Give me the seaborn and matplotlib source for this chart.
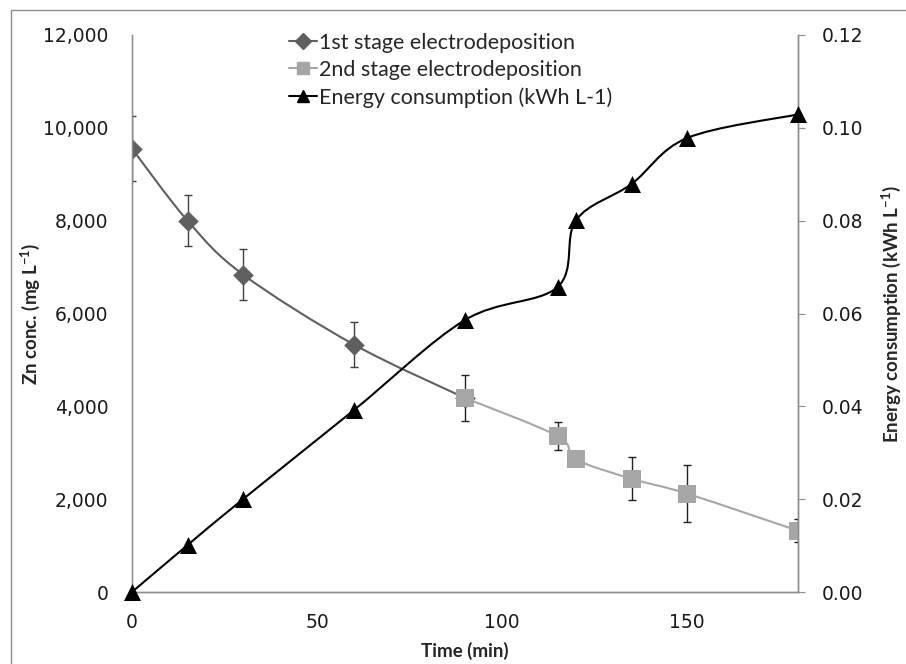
import matplotlib
matplotlib.use("Agg")
import matplotlib.pyplot as plt
from matplotlib.path import Path
from matplotlib.patches import PathPatch, Rectangle
from matplotlib.lines import Line2D
from matplotlib.ticker import FuncFormatter
import seaborn as sns

# data
time_stage1 = [0, 15, 30, 60, 90]
zn_stage1 = [9550, 8000, 6840, 5330, 4180]
err_stage1 = [700, 555, 540, 485, 0]

time_stage2 = [90, 115, 120, 135, 150, 180]
zn_stage2 = [4180, 3360, 2860, 2440, 2120, 1320]
err_stage2 = [490, 305, 0, 460, 610, 245]

time_energy = [0, 15, 30, 60, 90, 115, 120, 135, 150, 180]
energy = [0.0, 0.0101, 0.0200, 0.0392, 0.0586, 0.0657, 0.0801, 0.0879, 0.0978, 0.1029]

labels = ["1st stage electrodeposition", "2nd stage electrodeposition",
          "Energy consumption (kWh L-1)"]

c1, c2, c3 = "#5f5f5f", "#a6a6a6", "#000000"


def smooth_path(xs, ys):
    # Excel-style smoothed line: cubic Bezier through the points
    n = len(xs)
    verts = [(xs[0], ys[0])]
    codes = [Path.MOVETO]
    for i in range(n - 1):
        x0, y0 = (xs[i - 1], ys[i - 1]) if i > 0 else (xs[i], ys[i])
        x1, y1 = xs[i], ys[i]
        x2, y2 = xs[i + 1], ys[i + 1]
        x3, y3 = (xs[i + 2], ys[i + 2]) if i + 2 < n else (x2, y2)
        verts += [(x1 + (x2 - x0) / 6, y1 + (y2 - y0) / 6),
                  (x2 - (x3 - x1) / 6, y2 - (y3 - y1) / 6),
                  (x2, y2)]
        codes += [Path.CURVE4] * 3
    return Path(verts, codes)


sns.set_style("white")
plt.rcParams["font.family"] = ["DejaVu Sans"]
plt.rcParams["mathtext.fontset"] = "custom"
plt.rcParams["mathtext.bf"] = "Lato:bold"
plt.rcParams["mathtext.rm"] = "Lato"

fig = plt.figure(figsize=(9.06, 6.64), dpi=100)
ax = fig.add_axes([132 / 906, 1 - 592 / 664, 666 / 906, 557 / 664])
ax2 = ax.twinx()

# chart-area border (runs off the right and bottom edges, as in the original)
fig.patches.append(Rectangle((11 / 906, -10 / 664), 910 / 906, 664 / 664,
                             transform=fig.transFigure, fill=False,
                             edgecolor="#8c8c8c", linewidth=1))

# Zn concentration curves
ax.add_patch(PathPatch(smooth_path(time_stage1, zn_stage1), fill=False,
                       edgecolor=c1, linewidth=1.5, zorder=2))
ax.add_patch(PathPatch(smooth_path(time_stage2, zn_stage2), fill=False,
                       edgecolor=c2, linewidth=1.5, zorder=2))
ax.errorbar(time_stage1[:-1], zn_stage1[:-1], yerr=err_stage1[:-1], fmt="none",
            ecolor="#404040", elinewidth=1, capsize=3, zorder=3)
ax.errorbar([t for t, e in zip(time_stage2, err_stage2) if e > 0],
            [z for z, e in zip(zn_stage2, err_stage2) if e > 0],
            yerr=[e for e in err_stage2 if e > 0], fmt="none",
            ecolor="#202020", elinewidth=1, capsize=3, zorder=3)
sns.scatterplot(x=time_stage1, y=zn_stage1, ax=ax, marker="D", s=110,
                color=c1, edgecolor=c1, linewidth=0, zorder=4, legend=False)
sns.scatterplot(x=time_stage2, y=zn_stage2, ax=ax, marker="s", s=150,
                color=c2, edgecolor=c2, linewidth=0, zorder=5, legend=False)

# energy consumption
ax2.add_patch(PathPatch(smooth_path(time_energy, energy), fill=False,
                        edgecolor=c3, linewidth=1.5, zorder=2))
sns.scatterplot(x=time_energy, y=energy, ax=ax2, marker="^", s=150,
                color=c3, edgecolor=c3, linewidth=0, zorder=4, legend=False,
                clip_on=False)

ax.set_xlim(0, 180)
ax.set_ylim(0, 12000)
ax2.set_ylim(0, 0.12)
ax.set_xticks([0, 50, 100, 150])
ax.set_yticks(range(0, 12001, 2000))
ax2.set_yticks([0, 0.02, 0.04, 0.06, 0.08, 0.10, 0.12])
ax.yaxis.set_major_formatter(FuncFormatter(lambda v, p: f"{int(v):,}"))
ax2.yaxis.set_major_formatter(FuncFormatter(lambda v, p: f"{v:.2f}"))

for a in (ax, ax2):
    for s in a.spines.values():
        s.set_color("#8c8c8c")
        s.set_linewidth(1)
    a.spines["top"].set_visible(False)
    a.grid(False)
ax.spines["left"].set_color("#c0c0c0")
ax.tick_params(axis="both", length=0, labelsize=13.5, colors="#1a1a1a")
ax.tick_params(axis="x", pad=15)
ax.tick_params(axis="y", pad=17)
ax2.tick_params(axis="y", length=5, direction="out", color="#8c8c8c",
                labelsize=13.5, labelcolor="#1a1a1a", pad=12)

lab_font = dict(fontsize=13.5, fontweight="bold", family=["Lato", "DejaVu Sans"])
ax.set_xlabel("Time (min)", **lab_font)
ax.set_ylabel("Zn conc. (mg L$^{\\mathbf{-1}}$)", **lab_font)
ax2.set_ylabel("Energy consumption (kWh L$^{\\mathbf{-1}}$)", **lab_font)
ax.xaxis.set_label_coords(0.5, -(642 - 592) / 557)
ax.yaxis.set_label_coords((42 - 132) / 666, 0.5)
ax2.yaxis.set_label_coords((879 - 132) / 666, 0.5)

handles = [
    Line2D([], [], color=c1, marker="D", markersize=8, linewidth=1.5),
    Line2D([], [], color=c2, marker="s", markersize=9, linewidth=1.5),
    Line2D([], [], color=c3, marker="^", markersize=9, linewidth=1.5),
]
ax2.legend(handles, labels, loc="upper left",
           bbox_to_anchor=(278 / 906, 1 - 22 / 664),
           bbox_transform=fig.transFigure, frameon=False, handlelength=1.3,
           handletextpad=0.1, labelspacing=0.33, borderpad=0,
           prop={"family": "Lato", "size": 15.5})

fig.savefig("out.png", dpi=100)
